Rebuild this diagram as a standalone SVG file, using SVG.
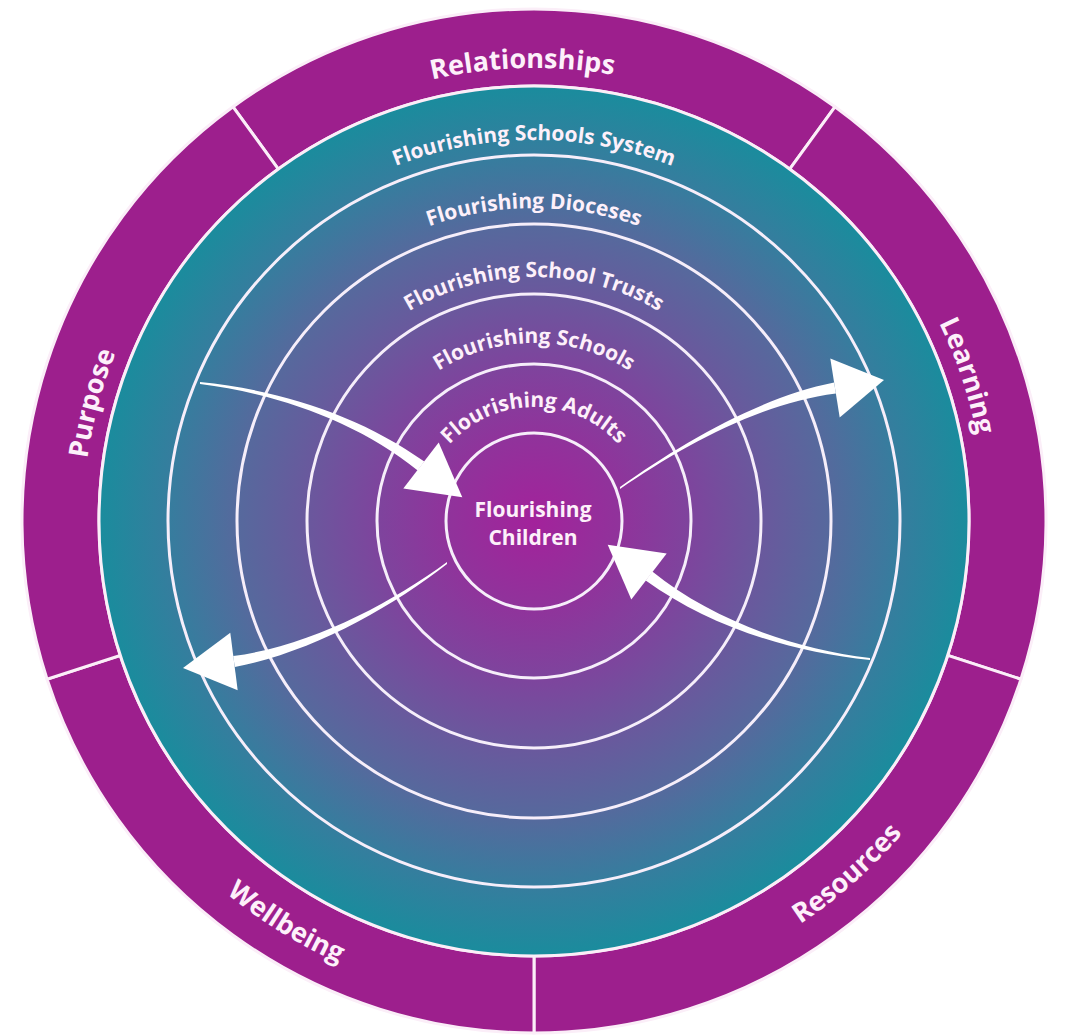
<svg xmlns="http://www.w3.org/2000/svg" xmlns:xlink="http://www.w3.org/1999/xlink" width="1066" height="1035" viewBox="0 0 1066 1035">
<style>
.seg{fill:#9d1f8d;stroke:#fbeef8;stroke-width:3}
.ring{fill:none;stroke:#f6eefa;stroke-width:3}
.lbl{font-family:"Open Sans","DejaVu Sans",sans-serif;font-weight:700;fill:#fdf0fa}
.outer{font-size:27px}
.inner{font-size:21px}
.arrow{fill:#ffffff}
</style>
<defs>
<radialGradient id="core" gradientUnits="userSpaceOnUse" cx="534" cy="521" r="435">
<stop offset="0" stop-color="#a3229b"/>
<stop offset="0.2" stop-color="#90339b"/>
<stop offset="0.36" stop-color="#7e449d"/>
<stop offset="0.52" stop-color="#6a589d"/>
<stop offset="0.68" stop-color="#56699d"/>
<stop offset="0.84" stop-color="#367d9e"/>
<stop offset="1" stop-color="#1a8c9d"/>
</radialGradient>
<path id="pRel" d="M81,521 A453,453 0 0 1 987,521"/>
<path id="pLearn" d="M534,70 A451,451 0 0 1 534,972"/>
<path id="pPurp" d="M534,972 A451,451 0 0 1 534,70"/>
<path id="pBottom" d="M51,521 A483,483 0 0 0 1017,521"/>
<path id="pSys" d="M153,521 A381,381 0 0 1 915,521"/>
<path id="pDio" d="M221,521 A313,313 0 0 1 847,521"/>
<path id="pTru" d="M290,521 A244,244 0 0 1 778,521"/>
<path id="pSch" d="M356,521 A178,178 0 0 1 712,521"/>
<path id="pAdu" d="M420,521 A114,114 0 0 1 648,521"/>
</defs>
<rect width="1066" height="1035" fill="#ffffff"/>

<g id="seg-relationships">
<path class="seg" d="M233.05,106.78 A512,512 0 0 1 834.95,106.78 L789.69,169.08 A435,435 0 0 0 278.31,169.08 Z"/>
<text class="lbl outer"><textPath xlink:href="#pRel" startOffset="49.2%" text-anchor="middle">Relationships</textPath></text>
</g>
<g id="seg-learning">
<path class="seg" d="M834.95,106.78 A512,512 0 0 1 1020.94,679.22 L947.71,655.42 A435,435 0 0 0 789.69,169.08 Z"/>
<text class="lbl outer"><textPath xlink:href="#pLearn" startOffset="39.7%" text-anchor="middle">Learning</textPath></text>
</g>
<g id="seg-resources">
<path class="seg" d="M1020.94,679.22 A512,512 0 0 1 534,1033 L534,956 A435,435 0 0 0 947.71,655.42 Z"/>
<text class="lbl outer"><textPath xlink:href="#pBottom" startOffset="73.1%" text-anchor="middle">Resources</textPath></text>
</g>
<g id="seg-wellbeing">
<path class="seg" d="M534,1033 A512,512 0 0 1 47.06,679.22 L120.29,655.42 A435,435 0 0 0 534,956 Z"/>
<text class="lbl outer"><textPath xlink:href="#pBottom" startOffset="32.4%" text-anchor="middle">Wellbeing</textPath></text>
</g>
<g id="seg-purpose">
<path class="seg" d="M47.06,679.22 A512,512 0 0 1 233.05,106.78 L278.31,169.08 A435,435 0 0 0 120.29,655.42 Z"/>
<text class="lbl outer"><textPath xlink:href="#pPurp" startOffset="58.3%" text-anchor="middle">Purpose</textPath></text>
</g>

<g id="ring-system">
<circle cx="534" cy="521" r="435" fill="url(#core)" stroke="#fbeef8" stroke-width="3"/>
<text class="lbl inner"><textPath xlink:href="#pSys" startOffset="50%" text-anchor="middle">Flourishing Schools System</textPath></text>
</g>
<g id="ring-dioceses">
<circle class="ring" cx="534" cy="521" r="366"/>
<text class="lbl inner"><textPath xlink:href="#pDio" startOffset="50%" text-anchor="middle">Flourishing Dioceses</textPath></text>
</g>
<g id="ring-trusts">
<circle class="ring" cx="534" cy="521" r="297"/>
<text class="lbl inner"><textPath xlink:href="#pTru" startOffset="50%" text-anchor="middle">Flourishing School Trusts</textPath></text>
</g>
<g id="ring-schools">
<circle class="ring" cx="534" cy="521" r="227"/>
<text class="lbl inner"><textPath xlink:href="#pSch" startOffset="50%" text-anchor="middle">Flourishing Schools</textPath></text>
</g>
<g id="ring-adults">
<circle class="ring" cx="534" cy="521" r="157"/>
<text class="lbl inner"><textPath xlink:href="#pAdu" startOffset="50%" text-anchor="middle">Flourishing Adults</textPath></text>
</g>
<g id="ring-children">
<circle class="ring" cx="534" cy="521" r="88"/>
<text class="lbl inner" x="533" y="517" text-anchor="middle">Flourishing</text>
<text class="lbl inner" x="533" y="545" text-anchor="middle">Children</text>
</g>

<g id="connectors">
<g id="arrow-in-left">
<path class="arrow" d="M200,382 C280,390 361,416 424.3,461.6 L417.7,470.4 C359,423 280,394 200,384 Z"/>
<path class="arrow" d="M403.3,488.5 L438.7,442.5 L462.3,497.2 Z"/>
</g>
<g id="arrow-out-right">
<path class="arrow" d="M620,487 C680,444 760,397 834.1,382.6 L835.9,393.4 C760,403 681,447 620,489 Z"/>
<path class="arrow" d="M830.3,358.4 L884,380 L839.7,417.6 Z"/>
</g>
<g id="arrow-in-right" transform="rotate(180 535 521)">
<path class="arrow" d="M200,382 C280,390 361,416 424.3,461.6 L417.7,470.4 C359,423 280,394 200,384 Z"/>
<path class="arrow" d="M403.3,488.5 L438.7,442.5 L462.3,497.2 Z"/>
</g>
<g id="arrow-out-left">
<path class="arrow" d="M447,562 C390,604 310,646 233.2,656.1 L234.8,666.9 C310,653 391,608 447,564 Z"/>
<path class="arrow" d="M230.3,632.7 L183,668 L237.7,690.3 Z"/>
</g>
</g>
</svg>
